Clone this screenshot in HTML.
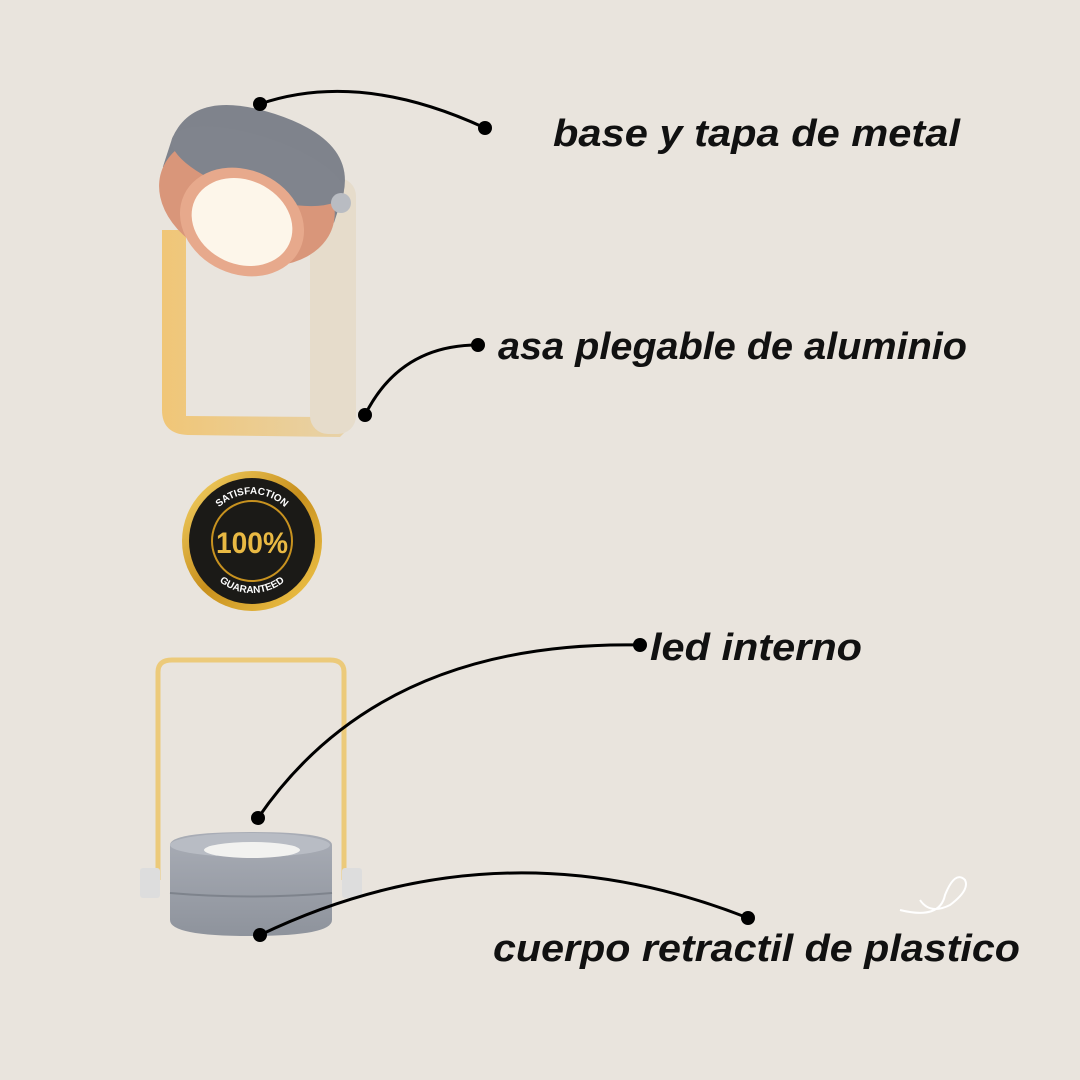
<!DOCTYPE html>
<html><head><meta charset="utf-8"><style>
html,body{margin:0;padding:0;background:#e9e4dd;}
svg{display:block}
text{font-family:"Liberation Sans",sans-serif;font-weight:bold;font-style:italic;fill:#111;}
</style></head><body>
<svg width="1080" height="1080" viewBox="0 0 1080 1080">
<defs>
<linearGradient id="wood" x1="0" x2="1"><stop offset="0" stop-color="#f0c677"/><stop offset="1" stop-color="#e7d2a9"/></linearGradient>
<linearGradient id="gold" x1="0" y1="0" x2="1" y2="1"><stop offset="0" stop-color="#f7d66a"/><stop offset="0.5" stop-color="#c8901d"/><stop offset="1" stop-color="#f3c94e"/></linearGradient>
<linearGradient id="gray" x1="0" y1="0" x2="0" y2="1"><stop offset="0" stop-color="#a9adb6"/><stop offset="1" stop-color="#8e939c"/></linearGradient>
</defs>
<rect width="1080" height="1080" fill="#e9e4dd"/>

<!-- top lamp -->
<path d="M162,230 L162,410 Q162,434 188,435 L340,437 L352,425 L352,240 L322,240 L322,417 L186,416 L186,230 Z" fill="url(#wood)"/>
<rect x="310" y="178" width="46" height="256" rx="18" fill="#e6dccb"/>
<g transform="rotate(18 250 190)">
<path d="M160,195 L160,165 Q165,110 250,110 Q335,110 340,165 L340,195 Z" fill="#7f838c"/>
<ellipse cx="250" cy="200" rx="90" ry="64" fill="#d9967a"/>
<ellipse cx="250" cy="165" rx="90" ry="30" fill="#80848d"/>
</g>
<g transform="rotate(25 242 222)">
<ellipse cx="242" cy="222" rx="64" ry="52" fill="#e7a98c"/>
<ellipse cx="242" cy="222" rx="52" ry="42" fill="#fdf6ea"/>
</g>
<circle cx="341" cy="203" r="10" fill="#b9bcc2"/>

<!-- badge -->
<circle cx="252" cy="541" r="70" fill="url(#gold)"/>
<circle cx="252" cy="541" r="63" fill="#1b1a17"/>
<circle cx="252" cy="541" r="40" fill="none" stroke="#c8921f" stroke-width="2"/>
<path id="tarc" d="M205,541 A47,47 0 0 1 299,541" fill="none"/>
<path id="barc" d="M200,541 A52,52 0 0 0 304,541" fill="none"/>
<text font-size="10" style="fill:#fff;font-style:normal"><textPath href="#tarc" startOffset="50%" text-anchor="middle">SATISFACTION</textPath></text>
<text font-size="10" style="fill:#fff;font-style:normal"><textPath href="#barc" startOffset="50%" text-anchor="middle">GUARANTEED</textPath></text>
<text x="252" y="553" font-size="30" text-anchor="middle" style="fill:#e9b943;font-style:normal" textLength="72" lengthAdjust="spacingAndGlyphs">100%</text>

<!-- bottom lamp -->
<path d="M158,880 L158,672 Q158,660 172,660 L330,660 Q344,660 344,672 L344,880" fill="none" stroke="#ecca7a" stroke-width="5"/>
<rect x="140" y="868" width="20" height="30" fill="#ddd" rx="3"/>
<rect x="342" y="868" width="20" height="30" fill="#ddd" rx="3"/>
<path d="M170,845 Q170,832 250,832 Q332,832 332,845 L332,920 Q332,936 250,936 Q170,936 170,920 Z" fill="url(#gray)"/>
<ellipse cx="250" cy="845" rx="80" ry="12" fill="#b8bcc4"/>
<ellipse cx="252" cy="850" rx="48" ry="8" fill="#f2f2f0"/>
<path d="M170,893 Q250,900 332,893" stroke="#7e838c" stroke-width="2" fill="none"/>

<!-- cable -->
<path d="M900,910 Q940,920 945,895 Q955,870 965,880 Q970,890 950,905 Q930,915 920,900" fill="none" stroke="#fff" stroke-width="2"/>

<!-- connectors -->
<g fill="none" stroke="#000" stroke-width="3">
<path d="M260,104 Q360,70 485,128"/>
<path d="M478,345 Q400,345 365,415"/>
<path d="M640,645 Q380,640 258,818"/>
<path d="M748,918 Q500,820 260,935"/>
</g>
<g fill="#000">
<circle cx="260" cy="104" r="7"/><circle cx="485" cy="128" r="7"/>
<circle cx="478" cy="345" r="7"/><circle cx="365" cy="415" r="7"/>
<circle cx="640" cy="645" r="7"/><circle cx="258" cy="818" r="7"/>
<circle cx="748" cy="918" r="7"/><circle cx="260" cy="935" r="7"/>
</g>

<text x="553" y="146" font-size="38" textLength="407" lengthAdjust="spacingAndGlyphs">base y tapa de metal</text>
<text x="498" y="359" font-size="38" textLength="469" lengthAdjust="spacingAndGlyphs">asa plegable de aluminio</text>
<text x="650" y="660" font-size="38" textLength="212" lengthAdjust="spacingAndGlyphs">led interno</text>
<text x="493" y="961" font-size="38" textLength="527" lengthAdjust="spacingAndGlyphs">cuerpo retractil de plastico</text>
</svg>
</body></html>
